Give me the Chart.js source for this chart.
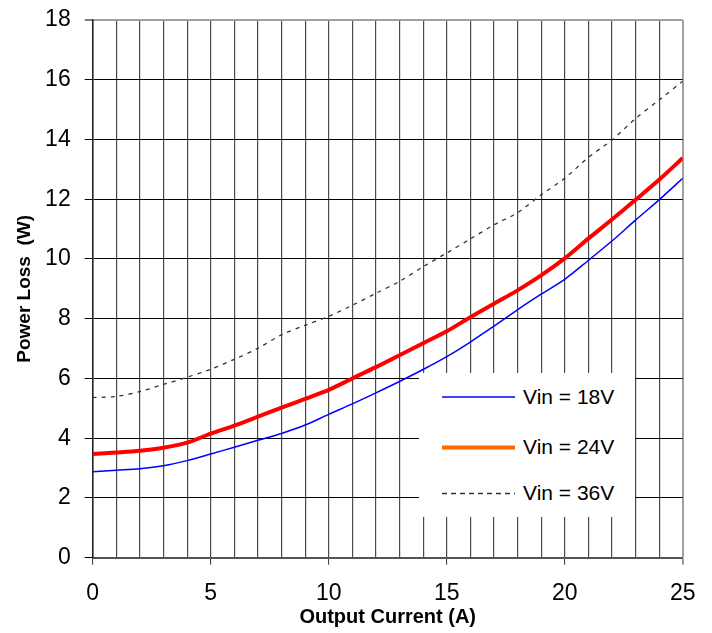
<!DOCTYPE html>
<html>
<head>
<meta charset="utf-8">
<script src="https://cdn.jsdelivr.net/npm/chart.js@4/dist/chart.umd.min.js"></script>
<style>
  html, body { margin: 0; padding: 0; background: #fff; }
  #wrap { position: relative; width: 712px; height: 633px; }
  #legend { position: absolute; left: 419px; top: 373px; width: 216px; height: 144px; background: #fff;
            font-family: 'Liberation Sans', Arial, sans-serif; font-size: 21px; color: #000; }
  .row { position: absolute; left: 0; height: 30px; width: 216px; }
  .row svg { position: absolute; left: 23px; top: 0; }
  .row span { position: absolute; left: 104px; top: 0; line-height: 30px; white-space: nowrap; }
</style>
</head>
<body>
<div id="wrap">
  <canvas id="c" width="712" height="633"></canvas>
  <div id="legend">
    <div class="row" style="top:9px">
      <svg width="74" height="30"><line x1="0" y1="15" x2="73" y2="15" stroke="#0000ff" stroke-width="1.5"/></svg>
      <span>Vin = 18V</span>
    </div>
    <div class="row" style="top:59px">
      <svg width="74" height="30"><line x1="0" y1="15.5" x2="73" y2="15.5" stroke="#ff6600" stroke-width="4"/></svg>
      <span>Vin = 24V</span>
    </div>
    <div class="row" style="top:105px">
      <svg width="74" height="30"><line x1="0" y1="15.5" x2="73" y2="15.5" stroke="#333" stroke-width="1.3" stroke-dasharray="5,4"/></svg>
      <span>Vin = 36V</span>
    </div>
  </div>
</div>
<script>
const currents = [0,1,2,3,4,5,6,7,8,9,10,11,12,13,14,15,16,17,18,19,20,21,22,23,24,25];
const vin18 = [2.88,2.93,2.98,3.08,3.25,3.47,3.70,3.93,4.16,4.44,4.80,5.15,5.52,5.90,6.30,6.73,7.22,7.75,8.30,8.82,9.32,9.95,10.60,11.30,11.98,12.70];
const vin24 = [3.47,3.52,3.58,3.68,3.85,4.15,4.42,4.72,5.02,5.32,5.62,6.00,6.38,6.78,7.18,7.58,8.05,8.50,8.95,9.45,10.02,10.68,11.32,11.98,12.65,13.38];
const vin36 = [5.36,5.40,5.56,5.80,6.04,6.31,6.64,7.01,7.46,7.78,8.08,8.45,8.85,9.25,9.74,10.20,10.67,11.14,11.55,12.15,12.70,13.40,13.98,14.70,15.32,15.95];
const seriesLabels = ['Vin = 18V','Vin = 24V','Vin = 36V'];
const xTitle = 'Output Current (A)';
const yTitle = 'Power Loss  (W)';

const FONT = "'Liberation Sans', Arial, sans-serif";
const pts = arr => currents.map((x, i) => ({x: x, y: arr[i]}));

new Chart(document.getElementById('c'), {
  type: 'line',
  data: {
    datasets: [
      { label: seriesLabels[2], data: pts(vin36), borderColor: '#333', borderWidth: 1.3, borderDash: [4,5], pointRadius: 0, tension: 0.3, fill: false },
      { label: seriesLabels[1], data: pts(vin24), borderColor: '#ff0000', borderWidth: 4, pointRadius: 0, tension: 0.3, fill: false },
      { label: seriesLabels[0], data: pts(vin18), borderColor: '#0000ff', borderWidth: 1.5, pointRadius: 0, tension: 0.3, fill: false }
    ]
  },
  options: {
    responsive: false,
    animation: false,
    events: [],
    layout: { padding: { top: 20, right: 29.3, left: 0, bottom: 0 } },
    plugins: { legend: { display: false }, tooltip: { enabled: false } },
    scales: {
      x: {
        type: 'linear', min: 0, max: 25,
        afterFit: s => { s.height = 75.3; s.paddingLeft = 0; s.paddingRight = 0; },
        ticks: {
          stepSize: 1, autoSkip: false, maxRotation: 0, padding: 15, color: '#000',
          font: { family: FONT, size: 23 },
          callback: v => (v % 5 === 0 ? String(v) : '')
        },
        grid: {
          color: ctx => (ctx.tick && ctx.tick.value === 25 ? '#a0a0a0' : '#4a4a4a'),
          lineWidth: ctx => (ctx.tick && ctx.tick.value === 25 ? 2 : 1.2),
          tickLength: 7,
          tickColor: ctx => (ctx.tick && ctx.tick.value % 5 === 0 ? '#333' : 'rgba(0,0,0,0)'),
          tickWidth: 1
        },
        border: { color: '#555', width: 2 },
        title: { display: true, text: xTitle, color: '#000', font: { family: FONT, size: 20, weight: 'bold' }, padding: { top: 4, bottom: 4 } }
      },
      y: {
        min: 0, max: 18,
        afterFit: s => { s.width = 92.7; s.paddingTop = 0; s.paddingBottom = 0; },
        ticks: { stepSize: 2, padding: 14, color: '#000', font: { family: FONT, size: 23 } },
        grid: {
          color: ctx => (ctx.tick && ctx.tick.value === 18 ? '#a0a0a0' : '#000'),
          lineWidth: ctx => (ctx.tick && ctx.tick.value === 18 ? 2 : 1),
          tickLength: 8, tickColor: '#000', tickWidth: 1
        },
        border: { color: '#222', width: 1.5 },
        title: { display: true, text: yTitle, color: '#000', font: { family: FONT, size: 19, weight: 'bold' }, padding: { top: 13, bottom: 0 } }
      }
    }
  }
});
</script>
</body>
</html>
